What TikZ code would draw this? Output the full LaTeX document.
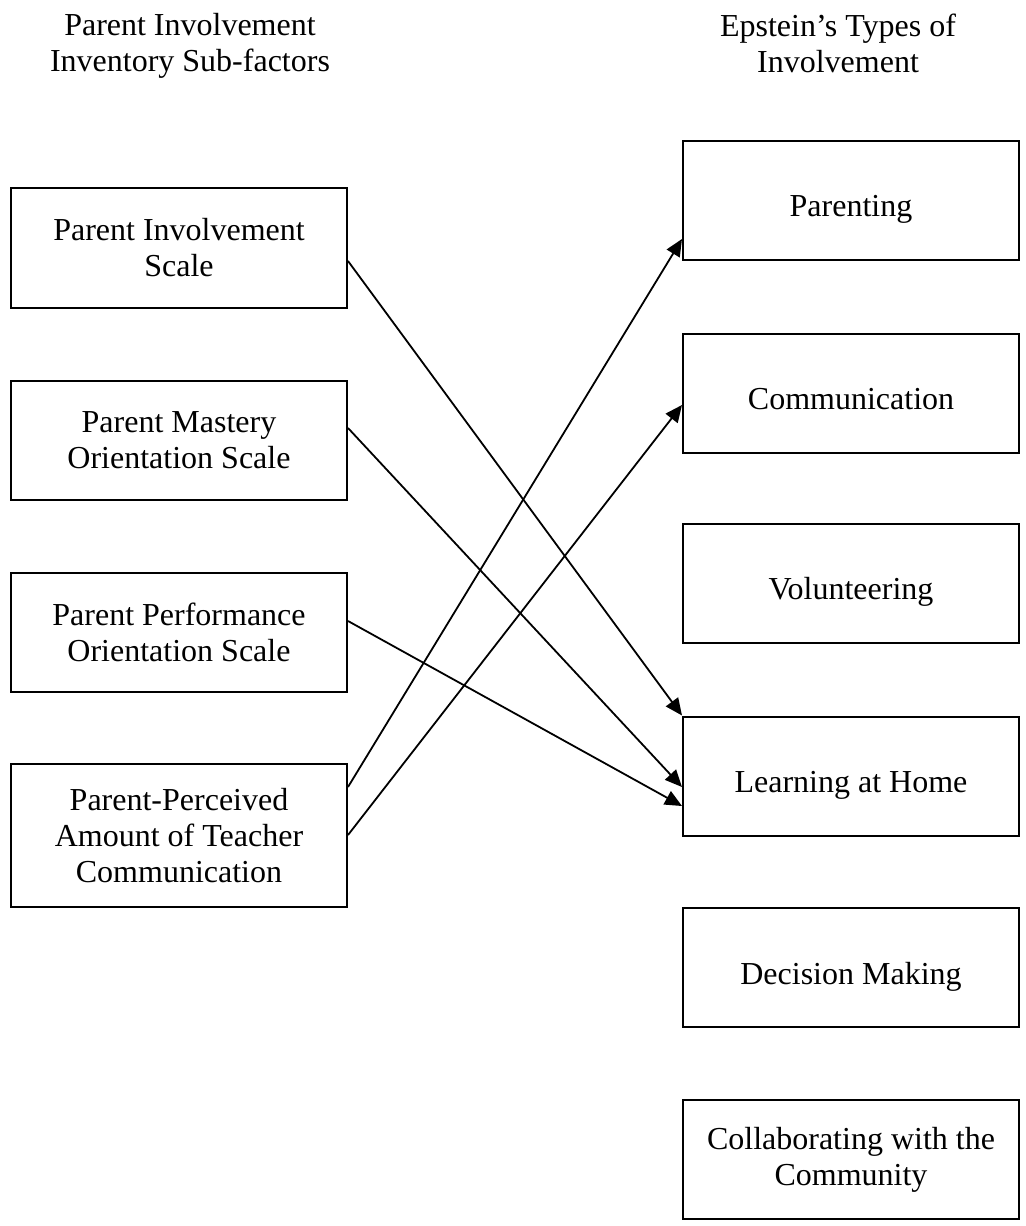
\documentclass[tikz,border=0pt]{standalone}
\usepackage{fontspec}
\setmainfont{Liberation Serif}
\usetikzlibrary{arrows.meta}
\begin{document}
\begin{tikzpicture}[x=0.5pt,y=-0.5pt,
  box/.style={draw, line width=1pt, minimum width=168pt, align=center, inner sep=0pt, font=\fontsize{16}{18}\selectfont},
  onebox/.style={box, minimum height=59.5pt, text height=16.5pt, text depth=0pt},
  arr/.style={-{Triangle[length=8.5pt,width=7.5pt]}, line width=0.9pt},
  hdr/.style={align=center, inner sep=0pt, font=\fontsize{16}{18}\selectfont}]
\useasboundingbox[fill=white] (0,0) rectangle (1025,1226);
% headers
\node[hdr] (hl) at (190,46) {Parent Involvement\\Inventory Sub-factors};
\node[hdr] (hr) at (838,43) {Epstein’s Types of\\Involvement};
% left boxes
\node[box, minimum height=60pt] (pis) at (179,248) {Parent Involvement\\Scale};
\node[box, minimum height=59.5pt] (pmo) at (179,440.5) {Parent Mastery\\Orientation Scale};
\node[box, minimum height=59.5pt] (ppo) at (179,632.5) {Parent Performance\\Orientation Scale};
\node[box, minimum height=71.5pt] (pat) at (179,835.5) {Parent-Perceived\\Amount of Teacher\\Communication};
% right boxes
\node[onebox] (par) at (851,200) {Parenting};
\node[onebox] (com) at (851,393) {Communication};
\node[onebox] (vol) at (851,583) {Volunteering};
\node[onebox] (lah) at (851,776) {Learning at Home};
\node[onebox] (dec) at (851,967.5) {Decision Making};
\node[box, minimum height=59.5pt] (col) at (851,1159.5) {Collaborating with the\\Community};
% arrows
\draw[arr] ([yshift=-6.5pt]pis.east) -- (lah.north west);
\draw[arr] ([yshift=6.25pt]pmo.east) -- ([yshift=-5.5pt]lah.west);
\draw[arr] ([yshift=5.75pt]ppo.east) -- ([yshift=-15pt]lah.west);
\draw[arr] ([yshift=24.25pt]pat.east) -- ([yshift=-19.5pt]par.west);
\draw[arr] ([yshift=0.25pt]pat.east) -- ([yshift=-6pt]com.west);
\end{tikzpicture}
\end{document}
